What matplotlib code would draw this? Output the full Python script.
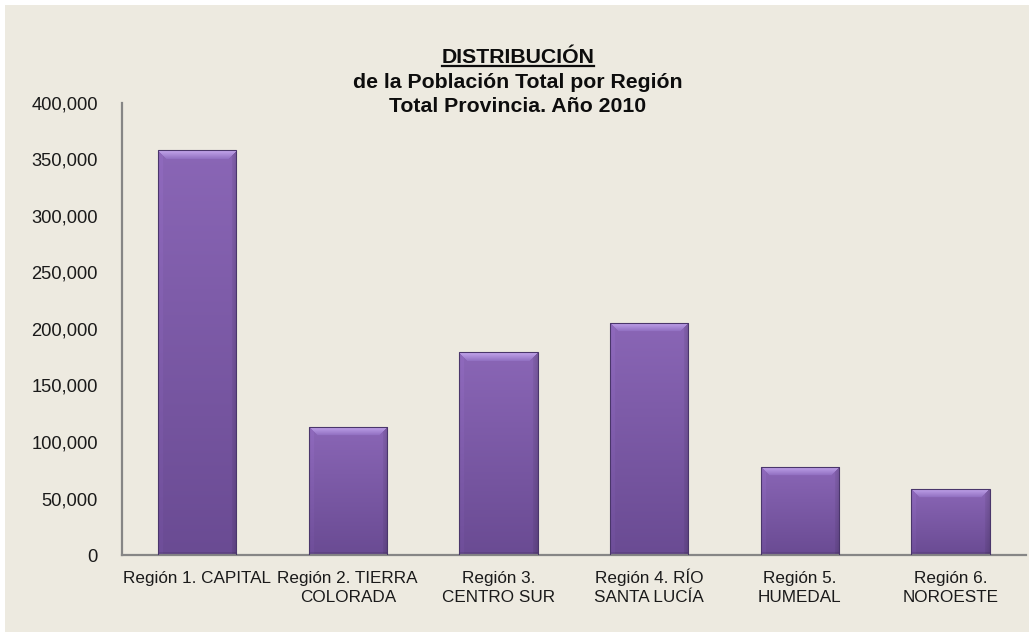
import matplotlib
matplotlib.use('Agg')
import matplotlib.pyplot as plt
import numpy as np
from matplotlib.colors import to_rgb
from matplotlib.patches import Rectangle
from matplotlib.lines import Line2D
from matplotlib.transforms import offset_copy

plt.rcParams['font.family'] = ['Liberation Sans', 'DejaVu Sans']

categories = ['Región 1. CAPITAL', 'Región 2. TIERRA\nCOLORADA', 'Región 3.\nCENTRO SUR',
              'Región 4. RÍO\nSANTA LUCÍA', 'Región 5.\nHUMEDAL', 'Región 6.\nNOROESTE']
values = [358000, 113500, 179500, 205500, 78000, 58500]
yticks = [0, 50000, 100000, 150000, 200000, 250000, 300000, 350000, 400000]
title_lines = ['DISTRIBUCIÓN', 'de la Población Total por Región', 'Total Provincia. Año 2010']

W, H = 1029, 635
beige = '#EDEAE0'
fig = plt.figure(figsize=(W / 100, H / 100), dpi=100, facecolor='white')
fig.patches.append(Rectangle((5 / W, 3 / H), 1, 1 - 8 / H, transform=fig.transFigure,
                             facecolor=beige, edgecolor='none', zorder=-10))

ax = fig.add_axes([121.6 / W, (H - 555) / H, (1026 - 121.6) / W, (555 - 103) / H])
ax.set_facecolor('none')
x = np.arange(len(categories))
bars = ax.bar(x, values, width=0.52, facecolor='none', edgecolor='#4A366B', linewidth=0.8, zorder=3)
ax.set_xlim(-0.5, len(categories) - 0.5)
ax.set_ylim(0, 400000)
ax.set_yticks(yticks)
ax.set_yticklabels([f'{v:,}' for v in yticks])
ax.set_xticks(x)
ax.set_xticklabels([])
for s in ['top', 'right']:
    ax.spines[s].set_visible(False)
for s in ['left', 'bottom']:
    ax.spines[s].set_color('#868686')
    ax.spines[s].set_linewidth(1.6)
ax.tick_params(axis='y', length=0, pad=17, labelsize=13.2, labelcolor='#1a1a1a')
ax.tick_params(axis='x', length=0)

# category labels, each line on its own baseline
for xi, lab in zip(x, categories):
    for k, part in enumerate(lab.split('\n')):
        tr = offset_copy(ax.get_xaxis_transform(), fig=fig, y=-(28 + 19 * k), units='dots')
        ax.text(xi, 0, part, transform=tr, ha='center', va='baseline',
                fontsize=12.3, color='#1a1a1a', clip_on=False)

# titles
ys = [63, 88, 112]
texts = []
for line, yb in zip(title_lines, ys):
    t = fig.text(518 / W, 1 - yb / H, line, ha='center', va='baseline',
                 fontsize=15.3, fontweight='bold', color='#0d0d0d')
    texts.append(t)

fig.canvas.draw()
r = fig.canvas.get_renderer()
bb = texts[0].get_window_extent(r)
uy = (H - ys[0] - 3) / H
fig.add_artist(Line2D([bb.x0 / W, bb.x1 / W], [uy, uy], transform=fig.transFigure,
                      color='#0d0d0d', linewidth=1.6))

# gradient-filled bevelled bars
top_c = np.array(to_rgb('#8A66B6'))
bot_c = np.array(to_rgb('#6A4B93'))
bevel_hi = np.array(to_rgb('#C3A6EC'))
bevel_lo = np.array(to_rgb('#9473C4'))
for b in bars:
    ext = b.get_window_extent(r)
    w = max(int(round(ext.width)), 2)
    h = max(int(round(ext.height)), 2)
    t = np.linspace(0, 1, h)[:, None, None]
    img = (1 - t) * top_c + t * bot_c
    img = np.repeat(img, w, axis=1)
    cols = np.arange(w)
    # side bevels: left lighter, right darker
    sb = 5
    for c in range(sb):
        img[:, c] = img[:, c] * 1.04
        img[:, w - 1 - c] = img[:, w - 1 - c] * (0.86 + 0.02 * c)
    bev = 9
    for rr in range(min(bev, h)):
        mask = (cols >= rr) & (cols <= w - 1 - rr)
        f = rr / (bev - 1)
        img[rr, mask] = (1 - f) * bevel_hi + f * bevel_lo
    img[0, :] = img[0, :] * 0.9
    bot = min(3, h)
    img[-bot:] *= 0.9
    im = ax.imshow(np.clip(img, 0, 1), extent=(b.get_x(), b.get_x() + b.get_width(), 0, b.get_height()),
                   aspect='auto', zorder=2, interpolation='bilinear')
    im.set_clip_path(b)
ax.set_xlim(-0.5, len(categories) - 0.5)
ax.set_ylim(0, 400000)

fig.savefig('out.png', dpi=100, facecolor=fig.get_facecolor())
